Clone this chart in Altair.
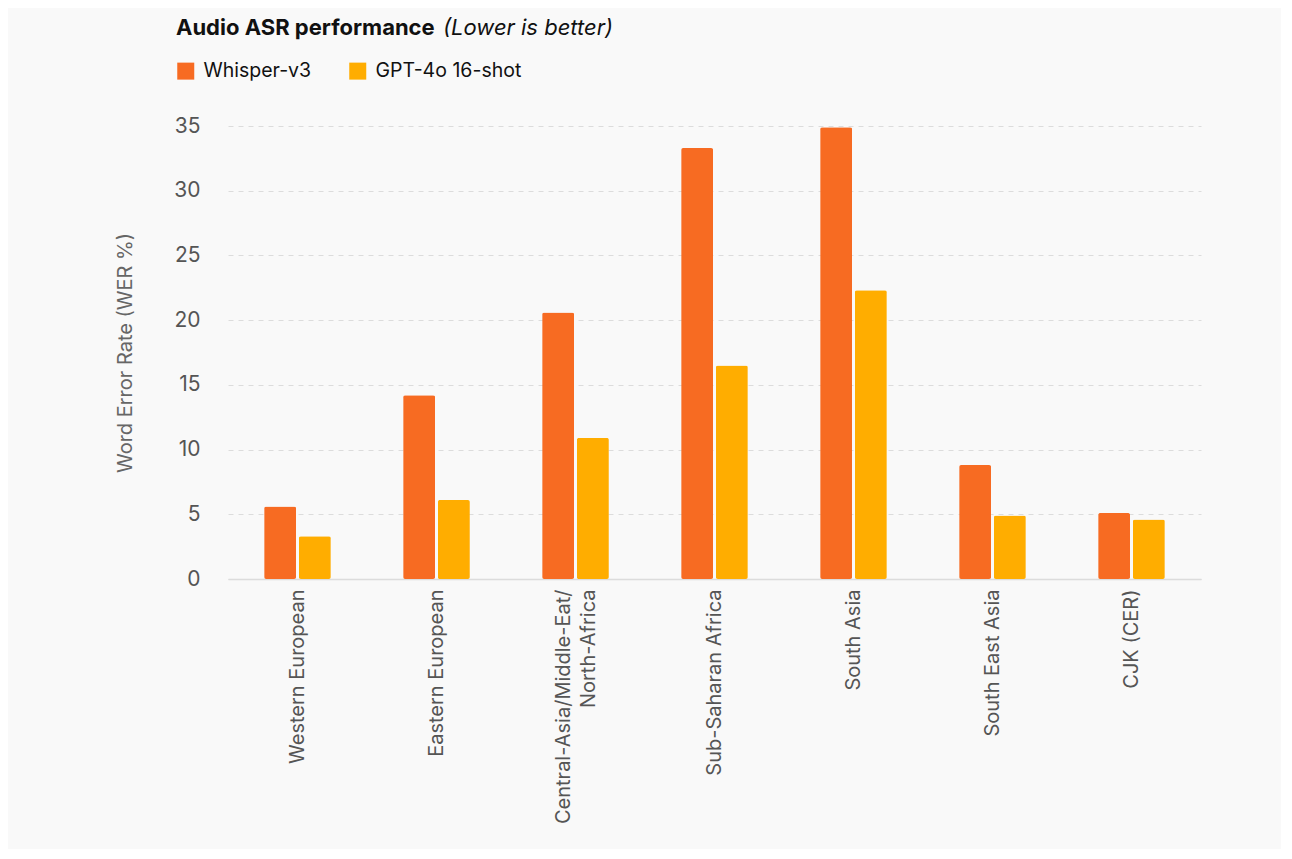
import altair as alt
import pandas as pd

categories = [
    "Western European",
    "Eastern European",
    "Central-Asia/Middle-Eat/North-Africa",
    "Sub-Saharan Africa",
    "South Asia",
    "South East Asia",
    "CJK (CER)",
]
series = ["Whisper-v3", "GPT-4o 16-shot"]
whisper = [5.6, 14.2, 20.6, 33.3, 34.9, 8.8, 5.1]
gpt4o = [3.3, 6.1, 10.9, 16.5, 22.3, 4.9, 4.6]
colors = ["#F76B22", "#FFAD00"]
y_ticks = [0, 5, 10, 15, 20, 25, 30, 35]
title_main = "Audio ASR performance"
title_note = "(Lower is better)"

rows = []
for c, w, g in zip(categories, whisper, gpt4o):
    rows.append({"region": c, "model": series[0], "wer": w})
    rows.append({"region": c, "model": series[1], "wer": g})
df = pd.DataFrame(rows)

FONT = "Inter"

two_line = "datum.value == 'Central-Asia/Middle-Eat/North-Africa'"
label_expr = (
    two_line + " ? ['Central-Asia/Middle-Eat/', 'North-Africa'] : datum.label"
)

bars = alt.Chart(df).mark_bar(cornerRadius=2).encode(
    x=alt.X(
        "region:N",
        sort=categories,
        scale=alt.Scale(paddingInner=0.52, paddingOuter=0.26),
        axis=alt.Axis(
            title=None,
            labelAngle=270,
            labelAlign="right",
            labelBaseline="middle",
            labelFontSize=20,
            labelColor="#555555",
            labelPadding=10,
            labelLineHeight=25,
            labelLimit=400,
            labelOffset={"condition": {"test": two_line, "value": -12}, "value": 0},
            ticks=False,
            domainColor="#dcdcdc",
            domainWidth=1.5,
            labelExpr=label_expr,
        ),
    ),
    xOffset=alt.XOffset(
        "model:N",
        sort=series,
        scale=alt.Scale(domain=series, paddingInner=0.08, paddingOuter=0),
    ),
    y=alt.Y(
        "wer:Q",
        scale=alt.Scale(domain=[0, 35]),
        axis=alt.Axis(
            values=y_ticks,
            title="Word Error Rate (WER %)",
            titleFontSize=20,
            titleColor="#666666",
            titleFontWeight="normal",
            titlePadding=38,
            labelFontSize=21,
            labelColor="#555555",
            labelPadding=28,
            ticks=False,
            domain=False,
            gridDash=[5, 5],
            gridColor="#dcdcdc",
            gridWidth=1,
        ),
    ),
    color=alt.Color(
        "model:N",
        sort=series,
        scale=alt.Scale(domain=series, range=colors),
        legend=alt.Legend(
            title=None,
            orient="none",
            legendX=-52,
            legendY=-65,
            direction="horizontal",
            symbolType="square",
            symbolSize=289,
            symbolStrokeWidth=0,
            symbolOpacity=1,
            labelFontSize=19.5,
            labelColor="#111111",
            labelOffset=8,
            columnPadding=36,
        ),
    ),
)

t1 = alt.Chart(pd.DataFrame({"t": [title_main]})).mark_text(
    align="left", baseline="alphabetic", fontSize=22, fontWeight="bold",
    color="#111111", font=FONT,
).encode(text="t:N", x=alt.value(-52), y=alt.value(-91))

t2 = alt.Chart(pd.DataFrame({"t": [title_note]})).mark_text(
    align="left", baseline="alphabetic", fontSize=22, fontStyle="italic",
    color="#111111", font=FONT,
).encode(text="t:N", x=alt.value(215), y=alt.value(-91))

chart = alt.layer(bars, t1, t2).properties(
    width=973,
    height=453,
    padding={"left": 220, "top": 118, "right": 80, "bottom": 270},
    autosize=alt.AutoSizeParams(type="none"),
    background="#F9F9F9",
).configure(font=FONT, view=alt.ViewConfig(strokeWidth=0, stroke="transparent"))

chart.save("out.html", embed_options={"renderer": "svg", "actions": False})
